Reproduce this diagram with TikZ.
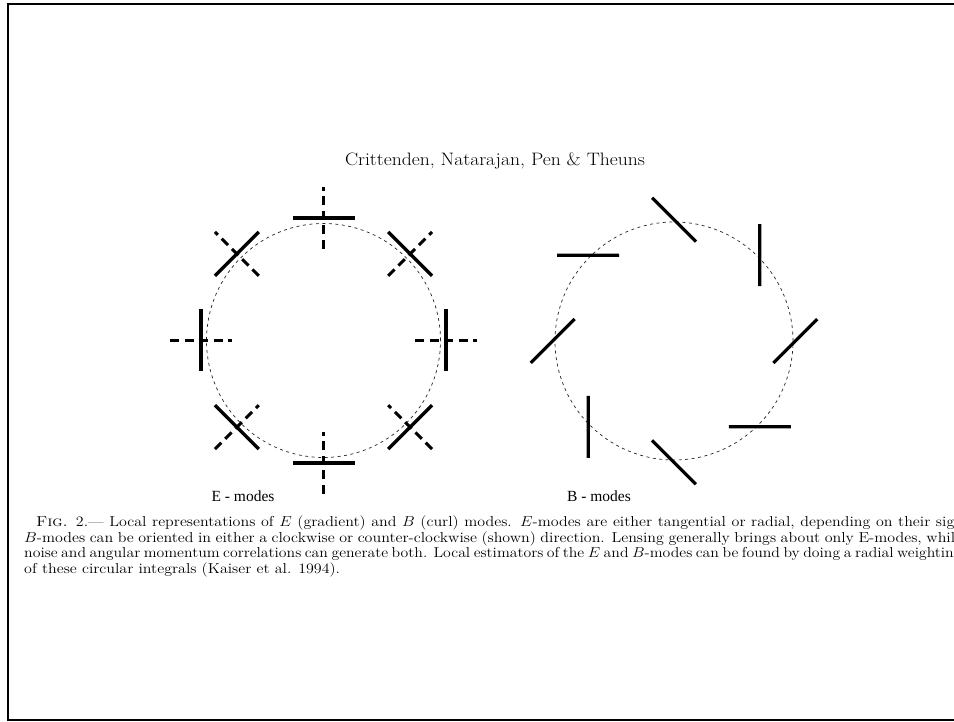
\documentclass[tikz,border=0pt]{standalone}
\usepackage{graphicx}
\usepackage{fontspec}
\newfontfamily\lblfont{Liberation Serif}
\newcommand{\capline}[3]{\scalebox{#1}[1]{\hbox to #2{#3}}}
\begin{document}
\begin{tikzpicture}[x=1pt,y=1pt,
  solidstick/.style={line width=3.2pt},
  dashstick/.style={line width=3pt,dash pattern=on 9pt off 5.5pt},
  guide/.style={line width=0.7pt,dash pattern=on 3pt off 3.5pt,black!85},
  frameline/.style={line width=2pt},
  captext/.style={font=\fontsize{14.4}{17}\selectfont,inner sep=0pt,anchor=base west},
  modelabel/.style={font=\lblfont\fontsize{15.5}{18}\selectfont,inner sep=0pt,anchor=base},
  titletext/.style={font=\fontsize{18}{21}\selectfont,inner sep=0pt,anchor=base}]
\useasboundingbox (0,0) rectangle (954,721);
\fill[white] (0,0) rectangle (954,721);
\draw[frameline] (960,717.3) -- (8.2,717.3) -- (8.2,1) -- (960,1);
\coordinate (Ec) at (323.5,380.5);
\coordinate (Bc) at (674,380);
\draw[guide] (Ec) circle[radius=117];
\draw[guide] (Bc) circle[radius=119];
\begin{scope}[shift={(Ec)}]
  \foreach \a in {0,45,...,315}{
    \draw[solidstick,rotate=\a] (122.5,-31) -- (122.5,31);
  }
  \foreach \a in {0,45,90,135}{
    \draw[dashstick,rotate=\a] (91.5,0) -- (153.5,0);
  }
  \foreach \a in {180,225,270,315}{
    \draw[dashstick,rotate=\a] (153.5,0) -- (91.5,0);
  }
\end{scope}
\begin{scope}[shift={(Bc)}]
  \foreach \a in {0,45,...,315}{
    \draw[solidstick,rotate=\a] (99.38,-21.92) -- (143.22,21.92);
  }
\end{scope}
\node[titletext] (ttl) at (495,555) {\scalebox{1.09}[1]{Crittenden, Natarajan, Pen \& Theuns}};
\node[modelabel] (elab) at (243,219) {E - modes};
\node[modelabel] (blab) at (599,219) {B - modes};
\node[captext] (cap1) at (36,194) {\capline{1.11}{835pt}{\textsc{Fig.} 2.--- Local representations of $E$ (gradient) and $B$ (curl) modes. $E$-modes are either tangential or radial, depending on their sign}};
\node[captext] (cap2) at (24,178.5) {\capline{1.11}{845pt}{$B$-modes can be oriented in either a clockwise or counter-clockwise (shown) direction. Lensing generally brings about only E-modes, while}};
\node[captext] (cap3) at (24,163) {\capline{1.095}{856pt}{noise and angular momentum correlations can generate both. Local estimators of the $E$ and $B$-modes can be found by doing a radial weighting}};
\node[captext] (cap4) at (24,147.5) {\scalebox{1.11}[1]{of these circular integrals (Kaiser et al. 1994).}};
\end{tikzpicture}
\end{document}
